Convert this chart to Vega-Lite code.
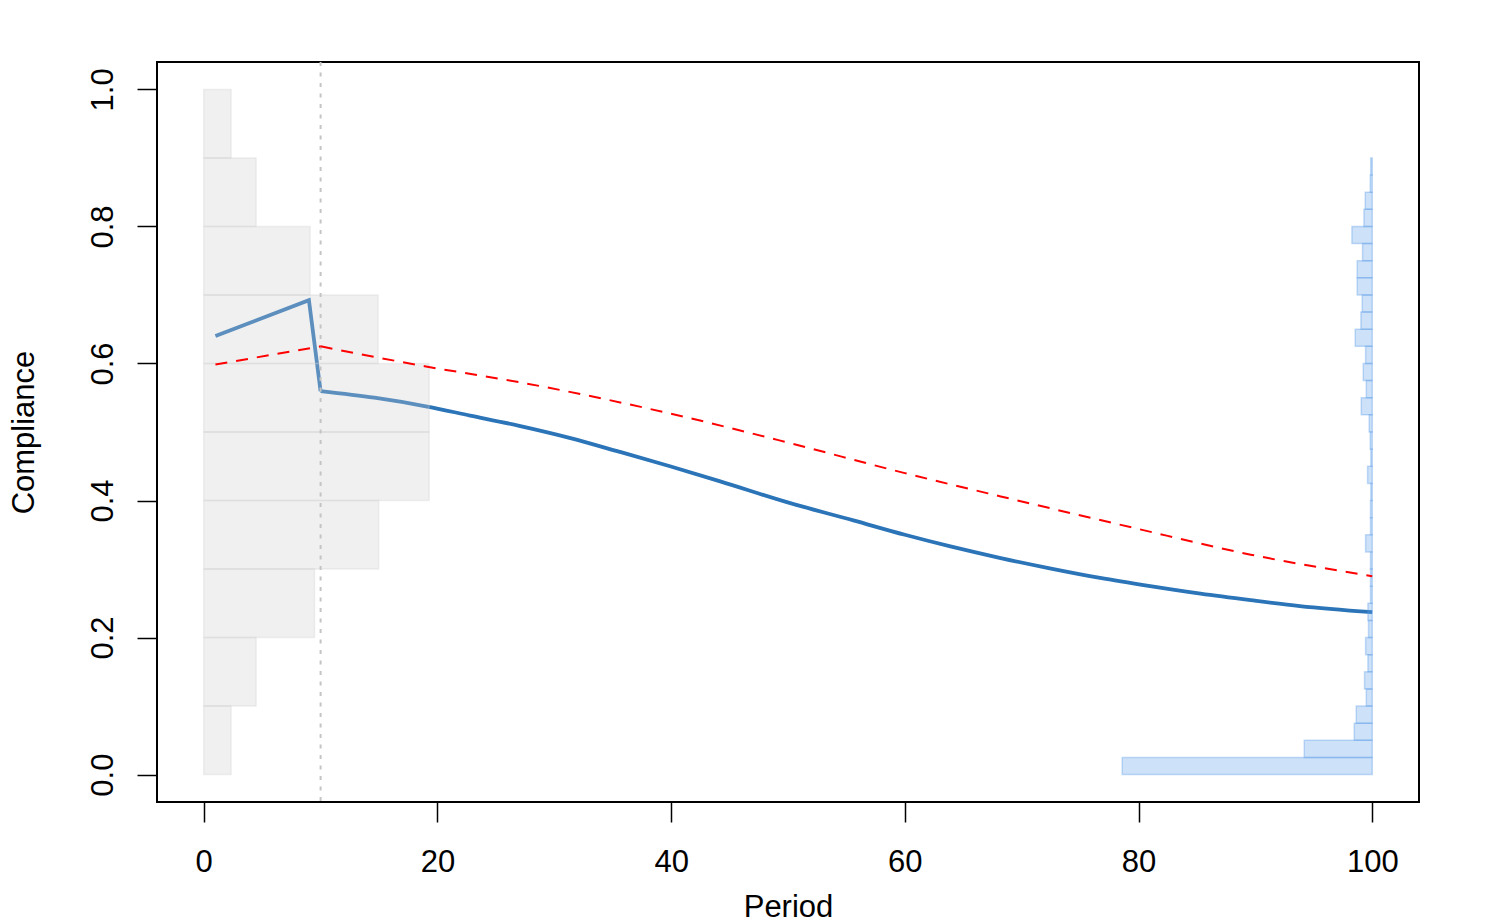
{
  "$schema": "https://vega.github.io/schema/vega-lite/v6.json",
  "width": 1262,
  "height": 740,
  "autosize": {"type": "none"},
  "padding": {"left": 157, "top": 62, "right": 81, "bottom": 121},
  "background": "#ffffff",
  "config": {
    "view": {"stroke": "#000000", "strokeWidth": 2},
    "axis": {
      "domain": false,
      "grid": false,
      "ticks": true,
      "tickSize": 20,
      "tickWidth": 1.5,
      "tickColor": "#000000",
      "labelFont": "Liberation Sans",
      "labelFontSize": 31,
      "labelColor": "#000000",
      "labelFlush": false,
      "labelOverlap": false,
      "labelBaseline": "alphabetic",
      "titleFont": "Liberation Sans",
      "titleFontSize": 31,
      "titleFontWeight": "normal",
      "titleColor": "#000000",
      "titleBaseline": "alphabetic"
    },
    "axisX": {"labelPadding": 49, "titleY": 114, "titleX": 631, "titleAlign": "center"},
    "axisY": {"labelPadding": 25, "labelAngle": -90, "labelAlign": "center", "titleAngle": -90, "titleX": -124, "titleY": 370, "titleAlign": "center"}
  },
  "datasets": {
    "est1": [
      {"period": 1, "compliance": 0.640},
      {"period": 9, "compliance": 0.6925},
      {"period": 10, "compliance": 0.5596}
    ],
    "est2": [
      {"period": 10, "compliance": 0.5596},
      {"period": 14.6, "compliance": 0.550},
      {"period": 19, "compliance": 0.5375},
      {"period": 22.8, "compliance": 0.524},
      {"period": 27, "compliance": 0.509},
      {"period": 31.3, "compliance": 0.4915},
      {"period": 35.6, "compliance": 0.471},
      {"period": 39.9, "compliance": 0.450},
      {"period": 44.2, "compliance": 0.428},
      {"period": 49.9, "compliance": 0.3976},
      {"period": 55.6, "compliance": 0.371},
      {"period": 60, "compliance": 0.350},
      {"period": 63.9, "compliance": 0.333},
      {"period": 68.2, "compliance": 0.316},
      {"period": 72.4, "compliance": 0.301},
      {"period": 76.7, "compliance": 0.287},
      {"period": 81, "compliance": 0.275},
      {"period": 85.3, "compliance": 0.264},
      {"period": 89.6, "compliance": 0.2545},
      {"period": 93.8, "compliance": 0.246},
      {"period": 100, "compliance": 0.237}
    ],
    "ref1": [
      {"period": 1, "compliance": 0.5985},
      {"period": 10, "compliance": 0.625}
    ],
    "ref2": [
      {"period": 10, "compliance": 0.625},
      {"period": 18.9, "compliance": 0.596},
      {"period": 27, "compliance": 0.5727},
      {"period": 39.9, "compliance": 0.527},
      {"period": 49.9, "compliance": 0.485},
      {"period": 60, "compliance": 0.440},
      {"period": 68.2, "compliance": 0.406},
      {"period": 79.6, "compliance": 0.360},
      {"period": 89.6, "compliance": 0.321},
      {"period": 100, "compliance": 0.2895}
    ],
    "vline": [{"period": 10}],
    "histL": [
      {"lo": 0.0, "hi": 0.1, "base": 0, "len": 2.34},
      {"lo": 0.1, "hi": 0.2, "base": 0, "len": 4.48},
      {"lo": 0.2, "hi": 0.3, "base": 0, "len": 9.48},
      {"lo": 0.3, "hi": 0.4, "base": 0, "len": 14.97},
      {"lo": 0.4, "hi": 0.5, "base": 0, "len": 19.29},
      {"lo": 0.5, "hi": 0.6, "base": 0, "len": 19.29},
      {"lo": 0.6, "hi": 0.7, "base": 0, "len": 14.92},
      {"lo": 0.7, "hi": 0.8, "base": 0, "len": 9.1},
      {"lo": 0.8, "hi": 0.9, "base": 0, "len": 4.48},
      {"lo": 0.9, "hi": 1.0, "base": 0, "len": 2.34}
    ],
    "histR": [
      {"lo": 0.000, "hi": 0.025, "left": 78.6, "right": 100},
      {"lo": 0.025, "hi": 0.050, "left": 94.18, "right": 100},
      {"lo": 0.050, "hi": 0.075, "left": 98.46, "right": 100},
      {"lo": 0.075, "hi": 0.100, "left": 98.63, "right": 100},
      {"lo": 0.100, "hi": 0.125, "left": 99.49, "right": 100},
      {"lo": 0.125, "hi": 0.150, "left": 99.34, "right": 100},
      {"lo": 0.150, "hi": 0.175, "left": 99.63, "right": 100},
      {"lo": 0.175, "hi": 0.200, "left": 99.43, "right": 100},
      {"lo": 0.200, "hi": 0.225, "left": 99.68, "right": 100},
      {"lo": 0.225, "hi": 0.250, "left": 99.63, "right": 100},
      {"lo": 0.250, "hi": 0.275, "left": 99.85, "right": 100},
      {"lo": 0.275, "hi": 0.300, "left": 99.85, "right": 100},
      {"lo": 0.300, "hi": 0.325, "left": 99.85, "right": 100},
      {"lo": 0.325, "hi": 0.350, "left": 99.43, "right": 100},
      {"lo": 0.350, "hi": 0.375, "left": 99.85, "right": 100},
      {"lo": 0.375, "hi": 0.400, "left": 99.85, "right": 100},
      {"lo": 0.400, "hi": 0.425, "left": 99.88, "right": 100},
      {"lo": 0.425, "hi": 0.450, "left": 99.6, "right": 100},
      {"lo": 0.450, "hi": 0.475, "left": 99.88, "right": 100},
      {"lo": 0.475, "hi": 0.500, "left": 99.83, "right": 100},
      {"lo": 0.500, "hi": 0.525, "left": 99.74, "right": 100},
      {"lo": 0.525, "hi": 0.550, "left": 99.06, "right": 100},
      {"lo": 0.550, "hi": 0.575, "left": 99.49, "right": 100},
      {"lo": 0.575, "hi": 0.600, "left": 99.23, "right": 100},
      {"lo": 0.600, "hi": 0.625, "left": 99.43, "right": 100},
      {"lo": 0.625, "hi": 0.650, "left": 98.54, "right": 100},
      {"lo": 0.650, "hi": 0.675, "left": 99.03, "right": 100},
      {"lo": 0.675, "hi": 0.700, "left": 99.14, "right": 100},
      {"lo": 0.700, "hi": 0.725, "left": 98.71, "right": 100},
      {"lo": 0.725, "hi": 0.750, "left": 98.71, "right": 100},
      {"lo": 0.750, "hi": 0.775, "left": 99.17, "right": 100},
      {"lo": 0.775, "hi": 0.800, "left": 98.26, "right": 100},
      {"lo": 0.800, "hi": 0.825, "left": 99.29, "right": 100},
      {"lo": 0.825, "hi": 0.850, "left": 99.4, "right": 100},
      {"lo": 0.850, "hi": 0.875, "left": 99.83, "right": 100},
      {"lo": 0.875, "hi": 0.900, "left": 99.87, "right": 100}
    ]
  },
  "layer": [
    {
      "data": {"name": "est1"},
      "mark": {"type": "line", "color": "#2b74b8", "strokeWidth": 3.8, "strokeJoin": "miter"},
      "encoding": {
        "x": {"field": "period", "type": "quantitative", "scale": {"domain": [-4, 104], "nice": false, "zero": false}, "axis": {"title": "Period", "values": [0, 20, 40, 60, 80, 100]}},
        "y": {"field": "compliance", "type": "quantitative", "scale": {"domain": [-0.04, 1.04], "nice": false, "zero": false}, "axis": {"title": "Compliance", "values": [0, 0.2, 0.4, 0.6, 0.8, 1.0], "format": ".1f"}}
      }
    },
    {
      "data": {"name": "est2"},
      "mark": {"type": "line", "color": "#2b74b8", "strokeWidth": 3.8, "interpolate": "monotone"},
      "encoding": {
        "x": {"field": "period", "type": "quantitative", "axis": {"title": "Period"}},
        "y": {"field": "compliance", "type": "quantitative", "axis": {"title": "Compliance"}}
      }
    },
    {
      "data": {"name": "histL"},
      "mark": {"type": "rect", "fill": "#cecece", "fillOpacity": 0.3, "stroke": "#cecece", "strokeOpacity": 0.3, "strokeWidth": 1.5},
      "encoding": {
        "x": {"field": "base", "type": "quantitative", "axis": {"title": "Period"}},
        "x2": {"field": "len"},
        "y": {"field": "lo", "type": "quantitative", "axis": {"title": "Compliance"}},
        "y2": {"field": "hi"}
      }
    },
    {
      "data": {"name": "histR"},
      "mark": {"type": "rect", "fill": "#589be8", "fillOpacity": 0.3, "stroke": "#589be8", "strokeOpacity": 0.35, "strokeWidth": 1.5},
      "encoding": {
        "x": {"field": "left", "type": "quantitative", "axis": {"title": "Period"}},
        "x2": {"field": "right"},
        "y": {"field": "lo", "type": "quantitative", "axis": {"title": "Compliance"}},
        "y2": {"field": "hi"}
      }
    },
    {
      "data": {"name": "vline"},
      "mark": {"type": "rule", "color": "#c4c4c4", "strokeWidth": 2, "strokeDash": [4, 6.5]},
      "encoding": {
        "x": {"field": "period", "type": "quantitative", "axis": {"title": "Period"}}
      }
    },
    {
      "data": {"name": "ref1"},
      "mark": {"type": "line", "color": "#ff0000", "strokeWidth": 2, "strokeDash": [12, 9]},
      "encoding": {
        "x": {"field": "period", "type": "quantitative", "axis": {"title": "Period"}},
        "y": {"field": "compliance", "type": "quantitative", "axis": {"title": "Compliance"}}
      }
    },
    {
      "data": {"name": "ref2"},
      "mark": {"type": "line", "color": "#ff0000", "strokeWidth": 2, "strokeDash": [12, 9], "interpolate": "monotone"},
      "encoding": {
        "x": {"field": "period", "type": "quantitative", "axis": {"title": "Period"}},
        "y": {"field": "compliance", "type": "quantitative", "axis": {"title": "Compliance"}}
      }
    }
  ]
}
